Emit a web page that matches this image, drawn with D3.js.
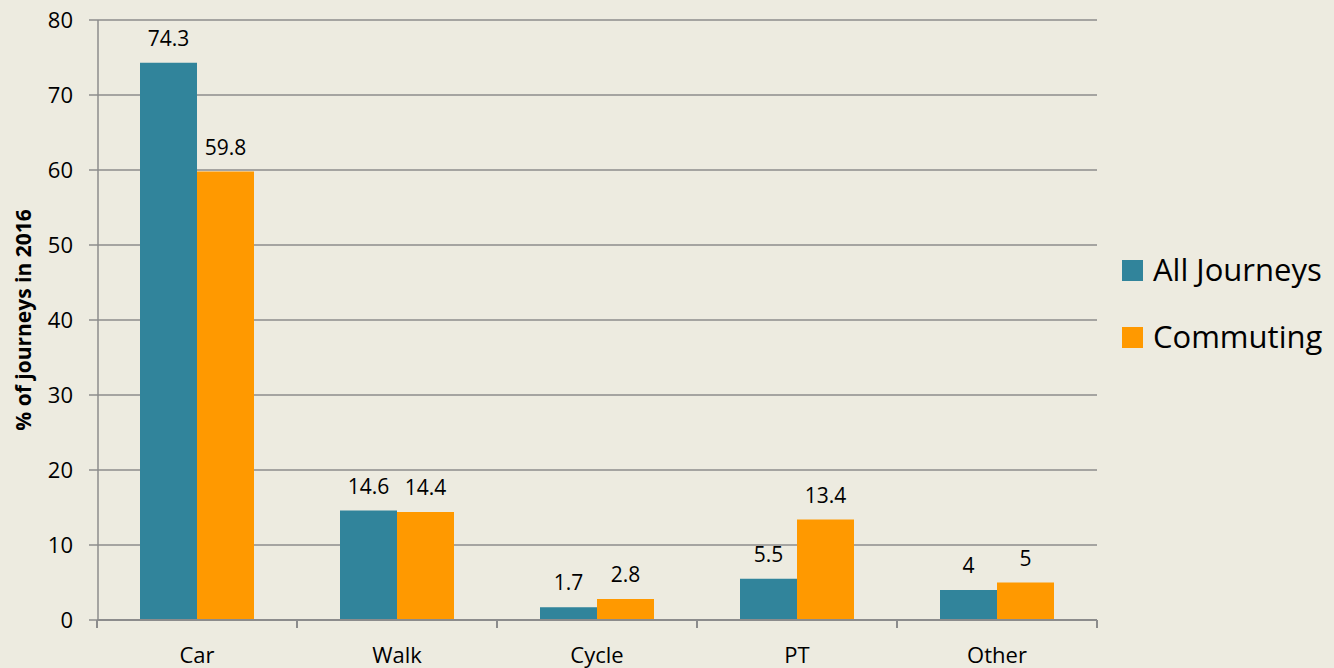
<!DOCTYPE html>
<html>
<head>
<script src="https://d3js.org/d3.v7.min.js"></script>
<style>
body { margin: 0; background: #edebe0; }
text { font-family: "Open Sans", "Noto Sans", sans-serif; fill: #000; }
</style>
</head>
<body>
<div id="chart"></div>
<script>
// chart data
var modes = ["Car", "Walk", "Cycle", "PT", "Other"];
var allJourneys = [74.3, 14.6, 1.7, 5.5, 4];
var commuting = [59.8, 14.4, 2.8, 13.4, 5];
var seriesNames = ["All Journeys", "Commuting"];
var yTicks = [0, 10, 20, 30, 40, 50, 60, 70, 80];

var colors = ["#31849b", "#ff9900"];

var svg = d3.select("#chart").append("svg")
  .attr("width", 1334)
  .attr("height", 668);

var x = d3.scaleBand().domain(modes).range([97, 1097])
  .paddingInner(0.43).paddingOuter(0.215);
var x1 = d3.scaleBand().domain(seriesNames).range([0, x.bandwidth()]);
var y = d3.scaleLinear().domain([0, 80]).range([620, 20]);

// gridlines
svg.append("g").selectAll("line").data(yTicks).enter()
  .append("line")
  .attr("x1", 89).attr("x2", 1097)
  .attr("y1", function(d){ return y(d); })
  .attr("y2", function(d){ return y(d); })
  .attr("stroke", "#8c8c8c")
  .attr("stroke-width", 1.5);

// y tick labels
svg.append("g").selectAll("text").data(yTicks).enter()
  .append("text")
  .attr("x", 73)
  .attr("y", function(d){ return y(d); })
  .attr("dy", "0.35em")
  .attr("text-anchor", "end")
  .style("font-size", "22px")
  .text(function(d){ return d; });

// y axis line
svg.append("line")
  .attr("x1", 98).attr("x2", 98)
  .attr("y1", y(80)).attr("y2", y(0))
  .attr("stroke", "#8c8c8c").attr("stroke-width", 1.5);

// bars
var series = [allJourneys, commuting];
series.forEach(function(vals, s) {
  var g = svg.append("g");
  g.selectAll("rect").data(modes).enter()
    .append("rect")
    .attr("x", function(d){ return x(d) + x1(seriesNames[s]); })
    .attr("y", function(d,i){ return y(vals[i]); })
    .attr("width", x1.bandwidth())
    .attr("height", function(d,i){ return y(0) - y(vals[i]); })
    .attr("fill", colors[s]);
  g.selectAll("text").data(modes).enter()
    .append("text")
    .attr("x", function(d){ return x(d) + x1(seriesNames[s]) + x1.bandwidth() / 2; })
    .attr("y", function(d,i){ return y(vals[i]) - 17; })
    .attr("text-anchor", "middle")
    .style("font-size", "21px")
    .text(function(d,i){ return vals[i]; });
});

// x axis
var xAxis = svg.append("g")
  .attr("transform", "translate(0," + y(0) + ")");
xAxis.append("line")
  .attr("x1", 97).attr("x2", 1097)
  .attr("stroke", "#8c8c8c").attr("stroke-width", 2);
xAxis.selectAll(".tk").data(d3.range(modes.length + 1)).enter()
  .append("line")
  .attr("x1", function(i){ return 97 + x.step() * i; })
  .attr("x2", function(i){ return 97 + x.step() * i; })
  .attr("y1", 0).attr("y2", 8)
  .attr("stroke", "#8c8c8c").attr("stroke-width", 2);
xAxis.selectAll("text").data(modes).enter()
  .append("text")
  .attr("x", function(d){ return x(d) + x.bandwidth() / 2; })
  .attr("y", 43)
  .attr("text-anchor", "middle")
  .style("font-size", "22px")
  .text(function(d){ return d; });

// y axis title
svg.append("text")
  .attr("transform", "translate(31,320) rotate(-90)")
  .attr("text-anchor", "middle")
  .style("font-size", "21px")
  .style("font-weight", "bold")
  .text("% of journeys in 2016");

// legend
var legend = svg.append("g").selectAll("g").data(seriesNames).enter()
  .append("g")
  .attr("transform", function(d,i){ return "translate(1122," + (260 + i * 67) + ")"; });
legend.append("rect")
  .attr("width", 21).attr("height", 21)
  .attr("fill", function(d,i){ return colors[i]; });
legend.append("text")
  .attr("x", 31).attr("y", 21)
  .style("font-size", "31px")
  .text(function(d){ return d; });
</script>
</body>
</html>
